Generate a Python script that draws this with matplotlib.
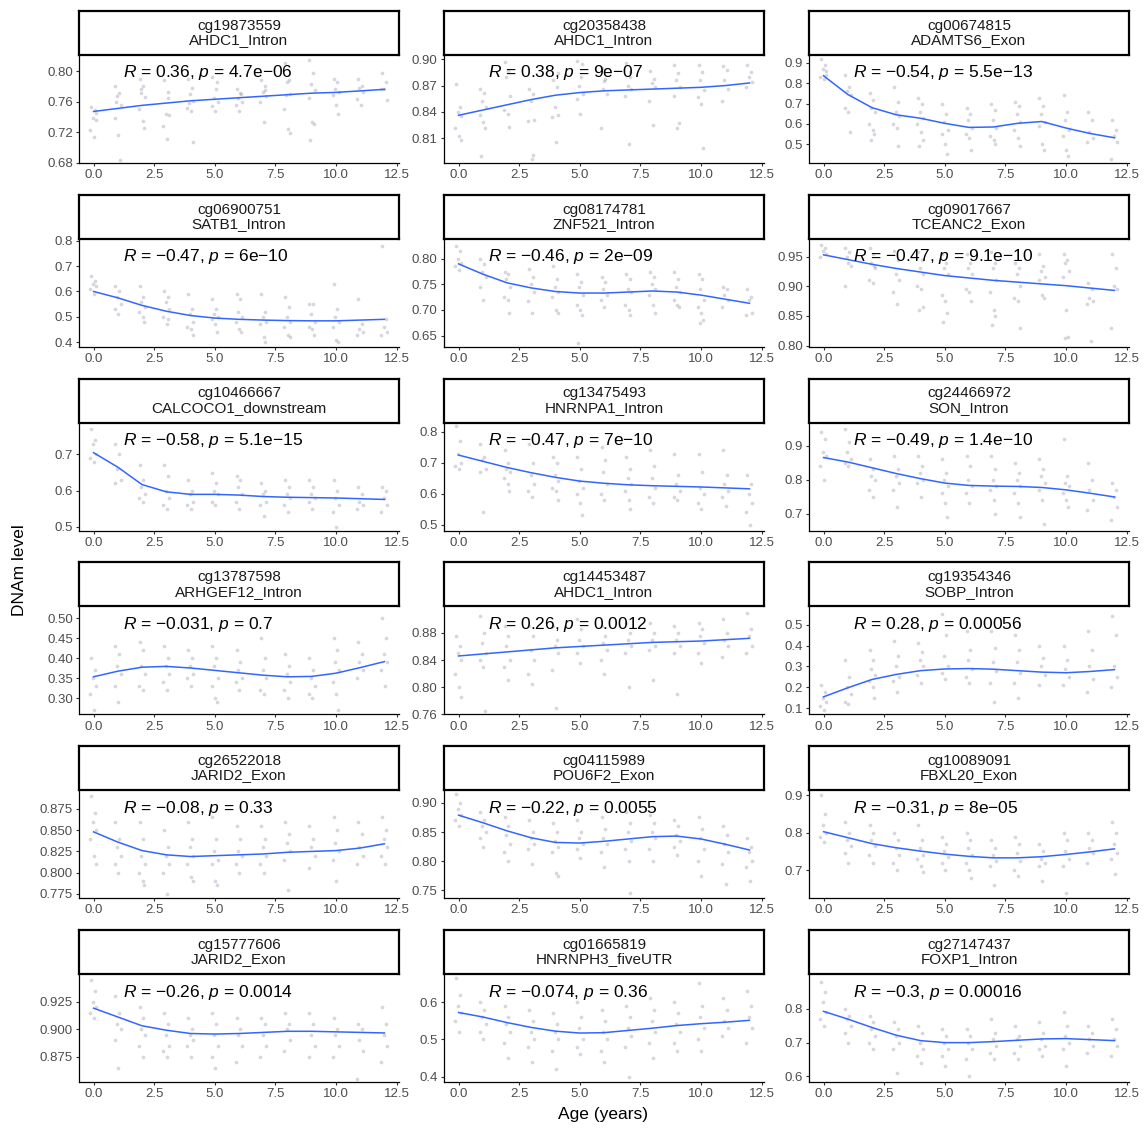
import matplotlib
matplotlib.use("Agg")
import matplotlib.pyplot as plt
import numpy as np

plt.rcParams['font.family'] = ['Liberation Sans', 'DejaVu Sans']
plt.rcParams['mathtext.fontset'] = 'custom'
plt.rcParams['mathtext.it'] = 'Liberation Sans:italic'
plt.rcParams['mathtext.rm'] = 'Liberation Sans'

ages = list(range(13))

probes = ['cg19873559', 'cg20358438', 'cg00674815',
          'cg06900751', 'cg08174781', 'cg09017667',
          'cg10466667', 'cg13475493', 'cg24466972',
          'cg13787598', 'cg14453487', 'cg19354346',
          'cg26522018', 'cg04115989', 'cg10089091',
          'cg15777606', 'cg01665819', 'cg27147437']
genes = ['AHDC1_Intron', 'AHDC1_Intron', 'ADAMTS6_Exon',
         'SATB1_Intron', 'ZNF521_Intron', 'TCEANC2_Exon',
         'CALCOCO1_downstream', 'HNRNPA1_Intron', 'SON_Intron',
         'ARHGEF12_Intron', 'AHDC1_Intron', 'SOBP_Intron',
         'JARID2_Exon', 'POU6F2_Exon', 'FBXL20_Exon',
         'JARID2_Exon', 'HNRNPH3_fiveUTR', 'FOXP1_Intron']
r_vals = ['0.36', '0.38', '\u22120.54', '\u22120.47', '\u22120.46', '\u22120.47',
          '\u22120.58', '\u22120.47', '\u22120.49', '\u22120.031', '0.26', '0.28',
          '\u22120.08', '\u22120.22', '\u22120.31', '\u22120.26', '\u22120.074', '\u22120.3']
p_vals = ['4.7e\u221206', '9e\u221207', '5.5e\u221213', '6e\u221210', '2e\u221209', '9.1e\u221210',
          '5.1e\u221215', '7e\u221210', '1.4e\u221210', '0.7', '0.0012', '0.00056',
          '0.33', '0.0055', '8e\u221205', '0.0014', '0.36', '0.00016']

ylims = [(0.6795, 0.821), (0.7814, 0.905), (0.408, 0.939),
         (0.3815, 0.808), (0.628, 0.839), (0.798, 0.980),
         (0.49, 0.788), (0.481, 0.830), (0.65, 0.968),
         (0.26, 0.53), (0.7615, 0.919), (0.071, 0.587),
         (0.770, 0.897), (0.736, 0.922), (0.625, 0.914),
         (0.852, 0.950), (0.386, 0.675), (0.583, 0.904)]
yticks = [['0.68', '0.72', '0.76', '0.80'], ['0.81', '0.84', '0.87', '0.90'], ['0.5', '0.6', '0.7', '0.8', '0.9'],
          ['0.4', '0.5', '0.6', '0.7', '0.8'], ['0.65', '0.70', '0.75', '0.80'], ['0.80', '0.85', '0.90', '0.95'],
          ['0.5', '0.6', '0.7'], ['0.5', '0.6', '0.7', '0.8'], ['0.7', '0.8', '0.9'],
          ['0.30', '0.35', '0.40', '0.45', '0.50'], ['0.76', '0.80', '0.84', '0.88'], ['0.1', '0.2', '0.3', '0.4', '0.5'],
          ['0.775', '0.800', '0.825', '0.850', '0.875'], ['0.75', '0.80', '0.85', '0.90'], ['0.7', '0.8', '0.9'],
          ['0.875', '0.900', '0.925'], ['0.4', '0.5', '0.6'], ['0.6', '0.7', '0.8']]

# smooth (loess) curve read at each age
smooth = [
    [.747, .751, .755, .758, .761, .763, .765, .767, .769, .771, .772, .774, .776],
    [.836, .842, .848, .854, .859, .862, .864, .865, .866, .867, .868, .870, .873],
    [.837, .745, .680, .645, .628, .603, .583, .585, .603, .612, .580, .553, .532],
    [.600, .575, .545, .522, .505, .495, .490, .487, .485, .484, .484, .487, .490],
    [.790, .770, .753, .743, .736, .733, .733, .735, .737, .735, .729, .721, .713],
    [.953, .945, .937, .930, .924, .918, .914, .910, .907, .904, .901, .897, .893],
    [.705, .665, .617, .597, .590, .590, .588, .584, .582, .581, .580, .578, .576],
    [.725, .705, .685, .668, .653, .641, .634, .629, .626, .624, .622, .619, .616],
    [.865, .852, .835, .818, .803, .790, .783, .781, .780, .777, .770, .760, .749],
    [.354, .368, .378, .380, .376, .370, .364, .358, .354, .355, .363, .377, .392],
    [.846, .849, .852, .855, .858, .860, .862, .864, .866, .867, .868, .870, .872],
    [.155, .198, .238, .262, .280, .288, .290, .287, .280, .273, .270, .276, .285],
    [.848, .836, .826, .821, .819, .820, .821, .822, .824, .825, .826, .829, .834],
    [.879, .866, .852, .840, .832, .831, .834, .838, .842, .843, .838, .829, .819],
    [.803, .787, .771, .760, .751, .743, .737, .733, .733, .736, .742, .749, .757],
    [.919, .911, .903, .899, .896, .8955, .896, .897, .898, .898, .8975, .897, .8965],
    [.572, .560, .545, .532, .522, .517, .518, .524, .530, .537, .542, .546, .551],
    [.793, .770, .745, .722, .706, .700, .700, .703, .707, .711, .712, .709, .706],
]

# DNAm values per age (0..12) for each probe
points = [
    [[.753, .749, .738, .736, .723, .714, .745], [.781, .771, .767, .756, .738, .716, .684, .760],
     [.789, .780, .776, .766, .750, .735, .725, .771], [.788, .772, .744, .742, .728, .711, .765],
     [.789, .778, .770, .761, .752, .748, .707, .758], [.792, .776, .765, .760, .754, .748, .785],
     [.776, .771, .765, .760, .755, .747, .770], [.788, .775, .773, .767, .760, .733, .781],
     [.810, .788, .785, .770, .750, .724, .719, .768], [.814, .798, .783, .775, .765, .733, .730, .710],
     [.790, .785, .777, .773, .769, .756, .744], [.790, .781, .778, .772, .764, .755],
     [.798, .785, .777, .762, .776]],
    [[.872, .846, .840, .835, .822, .812, .808], [.866, .862, .852, .846, .836, .828, .822, .789],
     [.897, .887, .880, .858, .842, .838, .823], [.866, .860, .852, .831, .830, .786, .791],
     [.876, .868, .845, .836, .834, .806, .884], [.898, .880, .870, .860, .855, .838, .895],
     [.890, .878, .866, .860, .822, .875], [.896, .886, .870, .866, .858, .803, .880],
     [.887, .878, .873, .868, .852, .825], [.893, .884, .876, .868, .858, .822, .827],
     [.894, .885, .876, .865, .857, .849, .799], [.892, .888, .876, .866, .852],
     [.893, .885, .880, .874, .868]],
    [[.92, .89, .87, .86, .83, .82, .84], [.84, .78, .76, .74, .68, .66, .56],
     [.75, .72, .68, .66, .60, .57, .55, .52], [.78, .71, .66, .64, .60, .58, .49],
     [.73, .70, .66, .63, .60, .56, .52, .49], [.70, .65, .61, .57, .55, .50, .45],
     [.68, .65, .62, .58, .55, .53, .47], [.70, .67, .62, .58, .54, .52, .50],
     [.71, .69, .65, .61, .57, .53, .49], [.73, .69, .65, .61, .59, .50, .47],
     [.74, .66, .62, .57, .54, .47, .44], [.66, .62, .56, .53, .51],
     [.62, .57, .54, .51, .43]],
    [[.66, .64, .63, .62, .61, .59], [.62, .60, .58, .55, .53, .51],
     [.62, .58, .56, .54, .52, .50, .48], [.60, .58, .56, .53, .50, .47, .49],
     [.59, .53, .51, .48, .46, .45, .43], [.57, .53, .51, .50, .49, .47, .44],
     [.59, .57, .52, .50, .48, .45, .44], [.59, .52, .50, .48, .47, .42, .40],
     [.58, .54, .50, .48, .46, .43, .42], [.55, .55, .51, .48, .46, .45, .43],
     [.63, .53, .50, .48, .46, .41, .40], [.57, .47, .45, .44, .43],
     [.78, .49, .46, .44, .43]],
    [[.825, .815, .800, .792, .785, .778], [.80, .79, .775, .765, .745, .72],
     [.775, .77, .76, .745, .725, .72, .695], [.78, .765, .75, .735, .718, .695],
     [.785, .76, .745, .735, .725, .70, .695], [.77, .755, .745, .73, .71, .70, .69, .635],
     [.765, .755, .74, .73, .72, .705], [.77, .76, .74, .735, .71, .70, .69],
     [.775, .765, .75, .74, .73, .71, .695], [.775, .76, .745, .735, .72, .71, .705],
     [.77, .76, .74, .72, .705, .695, .68, .675], [.745, .74, .73, .72, .705],
     [.74, .725, .72, .695, .69]],
    [[.970, .965, .96, .955, .95], [.965, .958, .95, .935, .90, .94],
     [.965, .955, .94, .93, .91, .905, .935], [.96, .945, .92, .91, .89, .87],
     [.958, .945, .93, .92, .90, .895, .865, .86], [.955, .94, .93, .92, .885, .875, .855, .84],
     [.955, .94, .93, .92, .895, .89, .875], [.958, .94, .93, .91, .89, .86, .85, .835],
     [.94, .93, .92, .90, .88, .875, .83], [.955, .935, .925, .915, .91, .885, .88],
     [.955, .945, .94, .925, .915, .86, .815, .812], [.905, .895, .88, .875, .87, .807],
     [.955, .93, .90, .895, .83]],
    [[.77, .74, .73, .70, .69, .68], [.73, .70, .66, .63, .62],
     [.67, .63, .61, .59, .58, .57], [.67, .64, .60, .58, .56, .55],
     [.63, .60, .59, .57, .56, .55], [.65, .62, .60, .59, .57, .56],
     [.64, .63, .61, .59, .57, .55], [.62, .60, .59, .57, .56, .53],
     [.63, .61, .59, .58, .56, .54], [.63, .61, .59, .58, .57, .55],
     [.63, .60, .58, .56, .54, .50], [.61, .59, .57, .56, .55],
     [.61, .60, .58, .56, .54]],
    [[.82, .77, .73, .70, .69, .68], [.76, .72, .71, .68, .67, .54],
     [.74, .70, .68, .67, .65, .63, .61], [.76, .70, .66, .63, .61, .59],
     [.72, .70, .66, .64, .62, .61, .58], [.72, .68, .64, .62, .60, .57, .53],
     [.75, .71, .67, .63, .60, .58], [.72, .68, .65, .63, .61, .58, .55],
     [.74, .69, .65, .62, .59, .57], [.73, .66, .63, .61, .59, .58],
     [.73, .67, .62, .60, .57, .55], [.74, .66, .63, .61, .59, .56],
     [.66, .63, .60, .57, .54, .50]],
    [[.94, .92, .88, .87, .84, .80], [.95, .91, .88, .86, .85, .84],
     [.86, .83, .81, .80, .77, .75], [.87, .83, .81, .79, .77, .72],
     [.87, .84, .82, .80, .79, .75], [.86, .82, .80, .78, .76, .73, .69],
     [.87, .84, .80, .78, .76, .73], [.87, .83, .80, .78, .77, .74, .70],
     [.85, .82, .80, .78, .76, .73, .69], [.86, .83, .81, .79, .77, .74, .67],
     [.92, .81, .79, .78, .76, .74, .72], [.85, .80, .77, .74, .71],
     [.79, .77, .75, .72, .68]],
    [[.40, .37, .35, .33, .31, .27], [.43, .41, .38, .36, .33, .29],
     [.44, .42, .38, .36, .33, .32], [.43, .40, .38, .36, .34, .32],
     [.42, .40, .38, .36, .35, .33], [.43, .40, .38, .35, .33, .30, .29],
     [.42, .39, .37, .35, .34, .32], [.45, .40, .37, .35, .32, .31],
     [.41, .38, .36, .34, .32, .30], [.40, .37, .35, .33, .31, .30],
     [.45, .42, .39, .37, .34, .31, .27], [.44, .41, .39, .37, .35],
     [.50, .45, .41, .39, .37, .33]],
    [[.875, .86, .85, .84, .82, .80, .785], [.905, .88, .865, .85, .84, .83, .765],
     [.89, .875, .86, .84, .83, .81], [.89, .875, .855, .84, .82, .805],
     [.89, .87, .86, .85, .825, .77], [.90, .885, .87, .86, .85, .835],
     [.89, .875, .865, .855, .84, .82], [.895, .88, .87, .86, .85, .80],
     [.895, .88, .87, .86, .855, .81], [.89, .88, .87, .86, .85, .79],
     [.895, .885, .875, .865, .85, .835], [.90, .88, .87, .86, .845],
     [.91, .885, .875, .86, .85]],
    [[.21, .18, .15, .13, .11, .09], [.33, .25, .20, .17, .13, .12],
     [.38, .33, .29, .26, .23, .20, .15], [.42, .35, .30, .25, .23, .18],
     [.41, .37, .33, .30, .26, .22], [.55, .45, .35, .30, .27, .24],
     [.47, .38, .33, .29, .25, .22], [.47, .39, .32, .28, .22, .13],
     [.45, .38, .32, .27, .22, .15], [.40, .34, .30, .26, .21],
     [.40, .33, .29, .25, .21], [.47, .38, .30, .24, .18],
     [.54, .45, .30, .25, .20]],
    [[.89, .87, .86, .85, .84, .82, .81], [.86, .84, .83, .82, .81, .80],
     [.86, .84, .82, .81, .80, .79, .785], [.85, .83, .82, .81, .80, .775],
     [.86, .84, .83, .82, .81, .795, .79], [.865, .84, .825, .815, .81, .79, .785],
     [.855, .84, .825, .82, .81, .80], [.855, .84, .83, .82, .81, .80],
     [.86, .845, .835, .825, .815, .78], [.855, .84, .83, .82, .805],
     [.865, .85, .835, .825, .815, .79], [.86, .845, .83, .82, .81],
     [.865, .85, .84, .83, .82, .81]],
    [[.915, .90, .89, .88, .87, .86], [.885, .87, .86, .85, .84, .825],
     [.875, .86, .845, .83, .815, .80], [.87, .85, .84, .83, .82, .795],
     [.865, .85, .835, .825, .815, .78, .775], [.87, .85, .84, .83, .82, .805],
     [.875, .855, .84, .83, .815, .79], [.885, .865, .85, .835, .82, .80, .745],
     [.88, .865, .85, .84, .82, .80], [.87, .86, .845, .835, .825, .81],
     [.875, .855, .84, .82, .80, .775], [.86, .845, .83, .815, .795, .76],
     [.84, .825, .815, .80, .79, .765]],
    [[.90, .85, .82, .80, .79, .775], [.83, .80, .78, .765, .745, .72],
     [.82, .80, .78, .765, .74, .72], [.80, .78, .76, .74, .72, .70],
     [.82, .78, .76, .74, .73, .71, .695], [.79, .77, .75, .735, .72, .70],
     [.80, .78, .76, .74, .72, .70, .68], [.78, .76, .74, .725, .71, .66],
     [.79, .77, .745, .725, .70, .685], [.77, .75, .73, .72, .71, .67],
     [.80, .78, .75, .73, .71, .64], [.80, .78, .76, .745, .72],
     [.83, .80, .77, .745, .73, .69]],
    [[.945, .935, .925, .92, .915, .91], [.93, .915, .905, .90, .89, .865],
     [.92, .91, .90, .895, .885, .875], [.915, .905, .895, .885, .88, .875],
     [.91, .90, .895, .89, .885, .875], [.915, .905, .895, .885, .875, .865],
     [.91, .90, .895, .885, .87], [.91, .905, .895, .885, .875],
     [.915, .905, .90, .89, .88], [.915, .905, .895, .885, .875],
     [.91, .90, .895, .885, .875], [.905, .90, .89, .88, .855],
     [.92, .905, .895, .885, .87]],
    [[.665, .62, .59, .57, .55, .52], [.60, .58, .56, .54, .52, .50],
     [.59, .56, .54, .52, .49, .45], [.58, .55, .52, .50, .48, .44],
     [.57, .54, .52, .50, .47, .42], [.60, .56, .53, .50, .48, .46],
     [.58, .55, .52, .50, .47, .44], [.59, .56, .53, .51, .48, .40],
     [.61, .58, .55, .52, .49, .45], [.60, .57, .54, .52, .49, .47],
     [.65, .59, .56, .53, .50, .47], [.61, .58, .55, .53, .51],
     [.63, .59, .56, .53, .49]],
    [[.88, .85, .82, .79, .77, .75], [.80, .78, .77, .75, .73, .70],
     [.78, .76, .74, .72, .70, .68], [.76, .74, .72, .70, .68, .61],
     [.75, .73, .70, .68, .66, .64], [.74, .72, .70, .68, .66, .63],
     [.74, .72, .70, .68, .65, .60], [.77, .73, .71, .69, .67, .65],
     [.75, .72, .71, .69, .67, .65], [.76, .73, .71, .69, .68, .66],
     [.79, .75, .72, .70, .68, .63], [.75, .73, .71, .69, .67],
     [.77, .74, .71, .69, .66]],
]

# horizontal jitter pattern (position only)
jit = [-0.10, 0.06, -0.03, 0.12, -0.13, 0.02, 0.09, -0.06]

W, H = 1145, 1128
fig = plt.figure(figsize=(W / 100, H / 100), dpi=100)

col_left = [79, 444, 809]
pw, strip_h, plot_h = 320, 44, 108

for i in range(18):
    r, c = divmod(i, 3)
    top = 11 + r * 183.8
    left = col_left[c]

    ax = fig.add_axes([left / W, 1 - (top + strip_h + plot_h) / H, pw / W, plot_h / H])
    xs, ys = [], []
    for a, vals in zip(ages, points[i]):
        for k, v in enumerate(vals):
            xs.append(a + jit[k % len(jit)])
            ys.append(v)
    ax.scatter(xs, ys, s=7, color='#7d7a96', alpha=0.3, linewidths=0, zorder=1)
    ax.plot(ages, smooth[i], color='#3366FF', lw=1.1, zorder=2)

    ax.set_xlim(-0.6, 12.6)
    ax.set_ylim(*ylims[i])
    ax.set_xticks([0, 2.5, 5, 7.5, 10, 12.5])
    ax.set_xticklabels(['0.0', '2.5', '5.0', '7.5', '10.0', '12.5'])
    ax.set_yticks([float(t) for t in yticks[i]])
    ax.set_yticklabels(yticks[i])
    ax.tick_params(labelsize=9.5, labelcolor='#4D4D4D', length=2.5, width=0.8,
                   color='#333333', pad=2)
    ax.spines['top'].set_visible(False)
    ax.spines['right'].set_visible(False)
    ax.spines['left'].set_linewidth(0.9)
    ax.spines['bottom'].set_linewidth(0.9)

    ax.text(1.2, 1 - 18 / plot_h,
            r'$\it{R}$' + ' = ' + r_vals[i] + ', ' + r'$\it{p}$' + ' = ' + p_vals[i],
            transform=ax.get_xaxis_transform(), ha='left', va='center',
            fontsize=12.5, color='black')

    # strip drawn after the panel so its border stays on top
    sax = fig.add_axes([left / W, 1 - (top + strip_h) / H, pw / W, strip_h / H])
    sax.set_xticks([])
    sax.set_yticks([])
    for s in sax.spines.values():
        s.set_linewidth(1.6)
        s.set_color('black')
    sax.text(0.5, 0.5, probes[i] + '\n' + genes[i], ha='center', va='center',
             fontsize=11, color='#1A1A1A', linespacing=1.05, transform=sax.transAxes)

fig.text(603 / W, 1 - 1115 / H, 'Age (years)', ha='center', va='center', fontsize=12.5)
fig.text(20 / W, 1 - 570 / H, 'DNAm level', ha='center', va='center', fontsize=12.5,
         rotation=90)

fig.savefig('out.png', dpi=100)
